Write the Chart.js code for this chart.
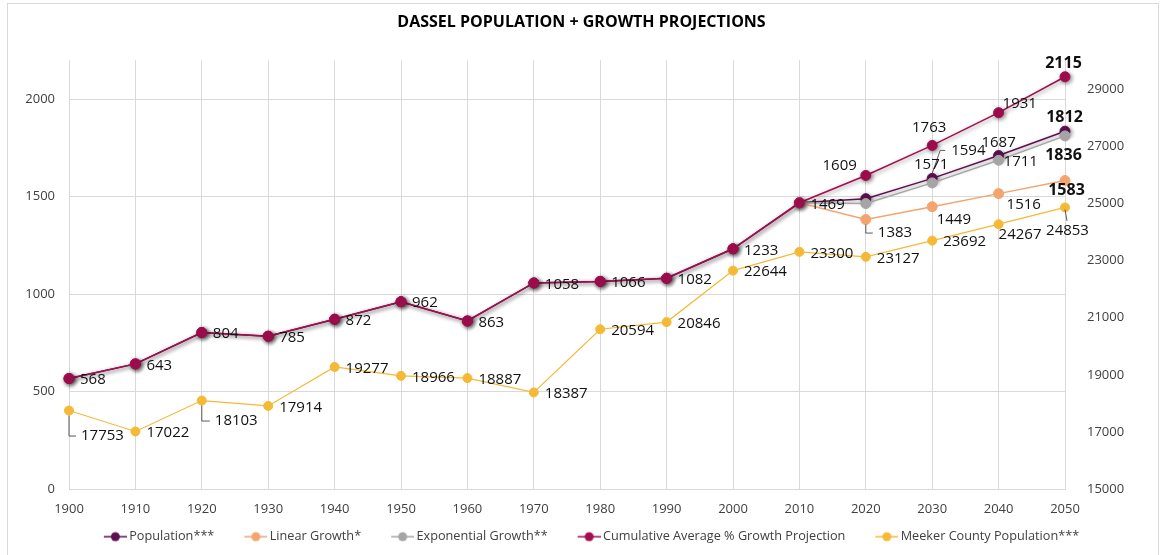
<!DOCTYPE html>
<html>
<head>
<meta charset="utf-8">
<script src="https://cdn.jsdelivr.net/npm/chart.js@4.4.1/dist/chart.umd.min.js"></script>
<style>
  html, body { margin: 0; padding: 0; background: #fff; }
  #wrap { position: relative; width: 1163px; height: 555px; }
  #frame { position: absolute; left: 7px; top: 3px; width: 1150px; height: 560px; border: 1px solid #d9d9d9; pointer-events: none; }
</style>
</head>
<body>
<div id="wrap">
  <canvas id="chart" width="1163" height="555"></canvas>
  <div id="frame"></div>
</div>
<script>
// 데이터
const years = ['1900','1910','1920','1930','1940','1950','1960','1970','1980','1990','2000','2010','2020','2030','2040','2050'];
const population        = [568, 643, 804, 785, 872, 962, 863, 1058, 1066, 1082, 1233, 1469, 1490, 1594, 1711, 1836];
const linearGrowth      = [null, null, null, null, null, null, null, null, null, null, null, 1469, 1383, 1449, 1516, 1583];
const exponentialGrowth = [null, null, null, null, null, null, null, null, null, null, null, 1469, 1465, 1571, 1687, 1812];
const cumulativeGrowth  = [568, 643, 804, 785, 872, 962, 863, 1058, 1066, 1082, 1233, 1469, 1609, 1763, 1931, 2115];
const meekerCounty      = [17753, 17022, 18103, 17914, 19277, 18966, 18887, 18387, 20594, 20846, 22644, 23300, 23127, 23692, 24267, 24853];

// 축 눈금
const leftTicks  = [0, 500, 1000, 1500, 2000];
const rightTicks = [15000, 17000, 19000, 21000, 23000, 25000, 27000, 29000];

const COLORS = {
  population:  '#5e0f4f',
  linear:      '#f4a46e',
  exponential: '#a5a5a5',
  cumulative:  '#a50d4f',
  meeker:      '#f5b935'
};
const GRID = '#d9d9d9';
const TICK = '#404040';

// 데이터 라벨 배치 (점 기준 오프셋)
const R = { align: 'left', dx: 11, dy: 1.5 };
const cumulativeLabels = [R, R, R, R, R, R, R, R, R, R, R, R,
  { align: 'right', dx: -9, dy: -10 },
  { align: 'center', dx: -3, dy: -18 },
  { align: 'left', dx: 4, dy: -8.5 },
  { align: 'center', dx: -1.5, dy: -13.5, bold: true }];
const populationLabels = [null, null, null, null, null, null, null, null, null, null, null, null, null,
  { align: 'left', dx: 19, dy: -28, leader: 'elbow' },
  { align: 'left', dx: 5, dy: 6.5 },
  { align: 'center', dx: -1.5, dy: 24, bold: true }];
const exponentialLabels = [null, null, null, null, null, null, null, null, null, null, null, null, null,
  { align: 'center', dx: -1, dy: -18 },
  { align: 'center', dx: 0, dy: -18 },
  { align: 'center', dx: -0.5, dy: -18, bold: true }];
const linearLabels = [null, null, null, null, null, null, null, null, null, null, null, null,
  { align: 'left', dx: 12, dy: 13.5, leader: 'down' },
  { align: 'left', dx: 4.5, dy: 13.5 },
  { align: 'left', dx: 8, dy: 11.5 },
  { align: 'center', dx: 1.5, dy: 9.5, bold: true }];
const meekerLabels = [
  { align: 'left', dx: 12, dy: 25.5, leader: 'down' },
  R,
  { align: 'left', dx: 13, dy: 20.5, leader: 'down' },
  R, R, R, R, R, R, R, R, R, R, R,
  { align: 'left', dx: 0, dy: 11 },
  { align: 'center', dx: 2.5, dy: 23.5, leader: 'short' }];

// 범례 아이콘 (선 + 원)
function legendIcon(color) {
  const c = document.createElement('canvas');
  c.width = 47; c.height = 12;
  const g = c.getContext('2d');
  g.strokeStyle = color; g.lineWidth = 1.5;
  g.beginPath(); g.moveTo(24, 6); g.lineTo(47, 6); g.stroke();
  g.fillStyle = color;
  g.beginPath(); g.arc(35.5, 6, 4.5, 0, Math.PI * 2); g.fill();
  return c;
}

// 계열 그림자
const shadowPlugin = {
  id: 'lineShadow',
  beforeDatasetDraw(chart, args) {
    if (!chart.data.datasets[args.index].shadow) return;
    const ctx = chart.ctx;
    ctx.save();
    ctx.shadowColor = 'rgba(0,0,0,0.45)';
    ctx.shadowBlur = 4;
    ctx.shadowOffsetX = 1.5;
    ctx.shadowOffsetY = 1.5;
  },
  afterDatasetDraw(chart, args) {
    if (chart.data.datasets[args.index].shadow) chart.ctx.restore();
  }
};

// 데이터 라벨
const dataLabelPlugin = {
  id: 'dataLabels',
  afterDatasetsDraw(chart) {
    const ctx = chart.ctx;
    chart.data.datasets.forEach((ds, i) => {
      if (!ds.labelSpecs) return;
      chart.getDatasetMeta(i).data.forEach((pt, j) => {
        const spec = ds.labelSpecs[j];
        const v = ds.data[j];
        if (!spec || v == null) return;
        const x = pt.x, y = pt.y;
        const tx = x + spec.dx, ty = y + spec.dy;
        ctx.save();
        if (spec.leader) {
          ctx.strokeStyle = '#595959';
          ctx.lineWidth = 1;
          ctx.beginPath();
          if (spec.leader === 'down') {
            ctx.moveTo(x, y + 5); ctx.lineTo(x, ty); ctx.lineTo(tx - 5, ty);
          } else if (spec.leader === 'elbow') {
            ctx.moveTo(tx - 6, ty); ctx.lineTo(tx - 11, ty); ctx.lineTo(x, y - 5);
          } else {
            ctx.moveTo(x, y + 2); ctx.lineTo(x + 2, ty - 10);
          }
          ctx.stroke();
        }
        ctx.font = spec.bold ? 'bold 16px "Open Sans"' : '15px "Open Sans"';
        ctx.fillStyle = '#111';
        ctx.textAlign = spec.align;
        ctx.textBaseline = 'middle';
        ctx.fillText(String(v), tx, ty);
        ctx.restore();
      });
    });
  }
};

function series(label, data, color, order, extra) {
  return Object.assign({
    label, data, order,
    borderColor: color, backgroundColor: color,
    pointBackgroundColor: color, pointBorderColor: color,
    borderWidth: 1.5, pointRadius: 5, pointHoverRadius: 5, pointBorderWidth: 1,
    tension: 0, clip: false, spanGaps: false, yAxisID: 'y'
  }, extra || {});
}

Chart.defaults.font.family = "'Open Sans', sans-serif";
const icons = [COLORS.population, COLORS.linear, COLORS.exponential, COLORS.cumulative, COLORS.meeker].map(legendIcon);

new Chart(document.getElementById('chart').getContext('2d'), {
  type: 'line',
  data: {
    labels: years,
    datasets: [
      series('Population***', population, COLORS.population, 5, { shadow: true, labelSpecs: populationLabels }),
      series('Linear Growth*', linearGrowth, COLORS.linear, 4, { labelSpecs: linearLabels }),
      series('Exponential Growth**', exponentialGrowth, COLORS.exponential, 3, { labelSpecs: exponentialLabels }),
      series('Cumulative Average % Growth Projection', cumulativeGrowth, COLORS.cumulative, 2, { shadow: true, labelSpecs: cumulativeLabels }),
      series('Meeker County Population***', meekerCounty, COLORS.meeker, 1, { yAxisID: 'y1', borderWidth: 1.2, pointRadius: 4.5, labelSpecs: meekerLabels })
    ]
  },
  options: {
    responsive: false,
    animation: false,
    layout: { padding: { left: 0, right: 0, top: 0, bottom: 2 } },
    plugins: {
      title: {
        display: true,
        text: 'DASSEL POPULATION + GROWTH PROJECTIONS',
        color: '#000',
        font: { size: 16, weight: 'bold' },
        padding: { top: 13, bottom: 28 }
      },
      legend: {
        position: 'bottom',
        labels: {
          usePointStyle: true,
          pointStyleWidth: 39,
          padding: 10,
          color: TICK,
          font: { size: 12.7 },
          sort: (a, b) => a.datasetIndex - b.datasetIndex,
          generateLabels(chart) {
            const items = Chart.defaults.plugins.legend.labels.generateLabels(chart);
            items.forEach(it => { it.pointStyle = icons[it.datasetIndex]; });
            return items;
          }
        }
      },
      tooltip: { enabled: false }
    },
    scales: {
      x: {
        type: 'category',
        offset: false,
        grid: { color: GRID, drawTicks: false },
        border: { color: GRID },
        ticks: { color: TICK, font: { size: 13 }, padding: 12, maxRotation: 0, autoSkip: false },
        afterFit(scale) { scale.height = 31; }
      },
      y: {
        position: 'left',
        min: 0, max: 2200,
        ticks: { padding: 14, color: TICK, font: { size: 13 }, callback: v => String(v) },
        afterBuildTicks(scale) { scale.ticks = leftTicks.map(v => ({ value: v })); },
        grid: { color: GRID, drawTicks: false },
        border: { display: false },
        afterFit(scale) { scale.width = 69; }
      },
      y1: {
        position: 'right',
        min: 15000, max: 30000,
        ticks: { padding: 14, color: TICK, font: { size: 13 }, callback: v => String(v) },
        afterBuildTicks(scale) { scale.ticks = rightTicks.map(v => ({ value: v })); },
        grid: { display: false },
        border: { display: false },
        afterFit(scale) { scale.width = 98; }
      }
    }
  },
  plugins: [shadowPlugin, dataLabelPlugin]
});
</script>
</body>
</html>
